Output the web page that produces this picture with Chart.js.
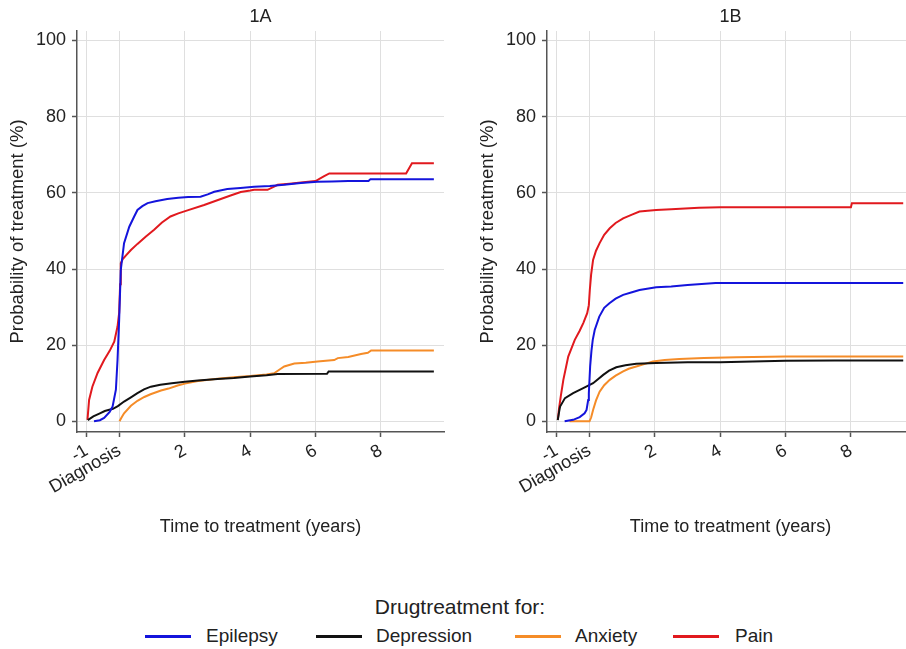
<!DOCTYPE html>
<html>
<head>
<meta charset="utf-8">
<script src="https://cdn.jsdelivr.net/npm/chart.js@4"></script>
<style>
  html, body { margin:0; padding:0; background:#fff; }
  body { width:906px; height:649px; overflow:hidden; position:relative; font-family:"Liberation Sans", Arial, sans-serif; color:#222; }
  .cv { position:absolute; top:0; }
  .lt { position:absolute; left:7px; width:906px; top:594px; text-align:center; font-size:21px; line-height:25px; }
  .sw { position:absolute; height:3px; top:635px; width:46px; }
  .lb { position:absolute; top:625px; font-size:19px; line-height:22px; white-space:nowrap; }
</style>
</head>
<body>
<canvas id="ca" class="cv" width="454" height="560" style="left:0px"></canvas>
<canvas id="cb" class="cv" width="454" height="560" style="left:470px"></canvas>

<div class="lt">Drugtreatment for:</div>
<div class="sw" style="left:145px;background:#1414dc"></div><div class="lb" style="left:206px">Epilepsy</div>
<div class="sw" style="left:316px;background:#111"></div><div class="lb" style="left:376px">Depression</div>
<div class="sw" style="left:515px;background:#f58c28"></div><div class="lb" style="left:575px">Anxiety</div>
<div class="sw" style="left:673px;background:#e1191e"></div><div class="lb" style="left:735px">Pain</div>

<script>
// ---------- Data ----------
const panelTitles = ['1A', '1B'];
const seriesNames = ['Epilepsy', 'Depression', 'Anxiety', 'Pain'];
const xTickValues = [-1, 0, 2, 4, 6, 8];
const yTickValues = [0, 20, 40, 60, 80, 100];

// Panel 1A
const epilepsyA_t = [-0.78, -0.6, -0.47, -0.3, -0.21, -0.11, -0.06, -0.01, 0.04, 0.14, 0.3, 0.45, 0.55, 0.7, 0.86, 1.1, 1.46, 1.8, 2.1, 2.48, 2.7, 2.9, 3.3, 3.7, 4.12, 4.6, 5.04, 5.55, 6.06, 6.5, 7.0, 7.62, 7.68, 8.5, 9.62];
const epilepsyA_v = [0, 0.3, 0.9, 2.5, 3.9, 8.3, 16.1, 26.6, 39.8, 46.8, 51.1, 53.8, 55.5, 56.5, 57.3, 57.8, 58.4, 58.7, 58.9, 59.0, 59.6, 60.3, 61.0, 61.3, 61.6, 61.8, 62.1, 62.6, 62.9, 63.0, 63.1, 63.1, 63.6, 63.6, 63.6];

const depressionA_t = [-0.97, -0.8, -0.6, -0.45, -0.2, -0.05, 0.14, 0.35, 0.55, 0.75, 0.96, 1.25, 1.6, 2.0, 2.4, 3.0, 3.5, 4.0, 4.5, 4.84, 6.35, 6.4, 9.62];
const depressionA_v = [0.3, 1.3, 2.1, 2.7, 3.3, 4.0, 5.2, 6.3, 7.4, 8.4, 9.1, 9.6, 10.0, 10.4, 10.7, 11.1, 11.4, 11.8, 12.1, 12.4, 12.5, 13.1, 13.1];

const anxietyA_t = [0, 0.05, 0.14, 0.35, 0.55, 0.76, 0.95, 1.27, 1.5, 1.78, 2.0, 2.4, 3.0, 3.5, 4.0, 4.5, 4.73, 4.9, 5.04, 5.35, 5.7, 6.06, 6.57, 6.68, 7.0, 7.39, 7.6, 7.7, 9.62];
const anxietyA_v = [0, 0.8, 2.1, 4.1, 5.4, 6.4, 7.1, 8.1, 8.6, 9.4, 9.9, 10.6, 11.2, 11.6, 11.9, 12.3, 12.6, 13.6, 14.4, 15.2, 15.4, 15.7, 16.1, 16.6, 16.9, 17.7, 18.0, 18.6, 18.6];

const painA_t = [-0.98, -0.93, -0.83, -0.67, -0.47, -0.3, -0.16, -0.06, -0.01, 0.02, 0.04, 0.1, 0.2, 0.35, 0.55, 0.8, 1.06, 1.3, 1.56, 1.8, 2.08, 2.59, 3.1, 3.4, 3.71, 4.0, 4.12, 4.53, 4.7, 4.84, 5.2, 5.55, 6.0, 6.25, 6.42, 7.5, 8.77, 8.95, 9.62];
const painA_v = [0.4, 5.6, 9.1, 12.7, 16.1, 18.5, 20.9, 24.9, 28.5, 36.0, 41.5, 42.6, 43.6, 45.0, 46.6, 48.5, 50.3, 52.2, 53.8, 54.6, 55.4, 56.8, 58.4, 59.3, 60.2, 60.6, 60.8, 60.8, 61.5, 62.1, 62.4, 62.7, 63.1, 64.3, 65.1, 65.1, 65.1, 67.8, 67.8];

// Panel 1B
const epilepsyB_t = [-0.76, -0.5, -0.3, -0.15, -0.09, -0.04, -0.02, 0.02, 0.06, 0.1, 0.16, 0.3, 0.45, 0.61, 0.8, 1.03, 1.3, 1.53, 2.04, 2.5, 3.0, 3.86, 9.6];
const epilepsyB_v = [0, 0.4, 1.1, 2.1, 3.0, 5.6, 7.4, 14.4, 18.5, 21.4, 24.0, 27.5, 29.8, 31.0, 32.2, 33.2, 33.9, 34.5, 35.2, 35.4, 35.8, 36.3, 36.3];

const depressionB_t = [-0.97, -0.93, -0.9, -0.75, -0.5, -0.19, 0.11, 0.25, 0.42, 0.6, 0.82, 1.1, 1.43, 2.04, 3.0, 4.0, 5.0, 6.0, 7.5, 9.6];
const depressionB_v = [0.3, 2.5, 3.9, 6.1, 7.4, 8.7, 10.0, 11.0, 12.2, 13.3, 14.2, 14.7, 15.1, 15.3, 15.5, 15.5, 15.7, 15.9, 16.0, 16.0];

const anxietyB_t = [-0.61, -0.3, 0, 0.05, 0.11, 0.2, 0.31, 0.45, 0.62, 0.8, 1.03, 1.2, 1.43, 1.7, 1.94, 2.3, 2.75, 3.5, 4.5, 6.0, 9.6];
const anxietyB_v = [0, 0, 0, 1.0, 3.0, 5.5, 7.8, 9.5, 10.9, 12.0, 13.1, 13.8, 14.4, 15.1, 15.7, 16.1, 16.4, 16.6, 16.8, 17.0, 17.0];

const painB_t = [-0.97, -0.93, -0.88, -0.8, -0.65, -0.45, -0.3, -0.19, -0.07, -0.02, 0.01, 0.05, 0.11, 0.2, 0.31, 0.45, 0.62, 0.8, 1.03, 1.3, 1.53, 2.04, 2.5, 3.35, 4.0, 6.0, 8.0, 8.03, 9.6];
const painB_v = [0.4, 3.5, 6.5, 10.9, 17.0, 21.4, 23.8, 25.8, 28.4, 30.5, 34.5, 38.5, 42.4, 44.8, 46.8, 49.0, 50.7, 52.1, 53.3, 54.3, 55.1, 55.5, 55.7, 56.1, 56.2, 56.2, 56.2, 57.3, 57.3];

// ---------- Styling ----------
const seriesColors = ['#1414dc', '#111111', '#f58c28', '#e1191e'];
const FONT = '"Liberation Sans", Arial, sans-serif';
const TXT = '#222';

function pts(t, v) { return t.map((x, i) => ({ x: x, y: v[i] })); }

function makeDatasets(list) {
  return list.map((s, i) => ({
    label: seriesNames[i],
    data: pts(s[0], s[1]),
    borderColor: seriesColors[i],
    backgroundColor: seriesColors[i],
    borderWidth: 2,
    pointRadius: 0,
    tension: 0,
    fill: false
  }));
}

function options(title) {
  return {
    responsive: false,
    animation: false,
    events: [],
    layout: { padding: { left: 0, right: 10, top: 0, bottom: 0 } },
    plugins: {
      legend: { display: false },
      tooltip: { enabled: false },
      title: {
        display: true, text: title, fullSize: false, color: TXT,
        font: { family: FONT, size: 18, weight: 'normal' },
        padding: { top: 6, bottom: 3.4 }
      }
    },
    scales: {
      x: {
        type: 'linear', min: -1.3, max: 9.93,
        afterBuildTicks: s => { s.ticks = xTickValues.map(v => ({ value: v })); },
        afterFit: s => { s.height = 128; },
        ticks: {
          callback: v => (v === 0 ? 'Diagnosis' : String(v)),
          minRotation: 30, maxRotation: 30, padding: 3, color: TXT,
          font: { family: FONT, size: 18 }
        },
        grid: { color: '#dfdfdf', lineWidth: 1, tickLength: 5, tickColor: '#555', tickWidth: 1.5 },
        border: { color: '#555', width: 1.5 },
        title: {
          display: true, text: 'Time to treatment (years)', color: TXT,
          font: { family: FONT, size: 18 }, padding: { top: 0, bottom: 22 }
        }
      },
      y: {
        type: 'linear', min: -2.8, max: 102.5,
        afterBuildTicks: s => { s.ticks = yTickValues.map(v => ({ value: v })); },
        afterFit: s => { s.width = 77; },
        ticks: { padding: 6, color: TXT, font: { family: FONT, size: 18 } },
        grid: { color: '#dfdfdf', lineWidth: 1, tickLength: 5, tickColor: '#555', tickWidth: 1.5 },
        border: { color: '#555', width: 1.5 },
        title: {
          display: true, text: 'Probability of treatment (%)', color: TXT,
          font: { family: FONT, size: 18.5 }, padding: { top: 7, bottom: 0 }
        }
      }
    }
  };
}

new Chart(document.getElementById('ca'), {
  type: 'line',
  data: { datasets: makeDatasets([[epilepsyA_t, epilepsyA_v], [depressionA_t, depressionA_v], [anxietyA_t, anxietyA_v], [painA_t, painA_v]]) },
  options: options(panelTitles[0])
});
new Chart(document.getElementById('cb'), {
  type: 'line',
  data: { datasets: makeDatasets([[epilepsyB_t, epilepsyB_v], [depressionB_t, depressionB_v], [anxietyB_t, anxietyB_v], [painB_t, painB_v]]) },
  options: options(panelTitles[1])
});
</script>
</body>
</html>
